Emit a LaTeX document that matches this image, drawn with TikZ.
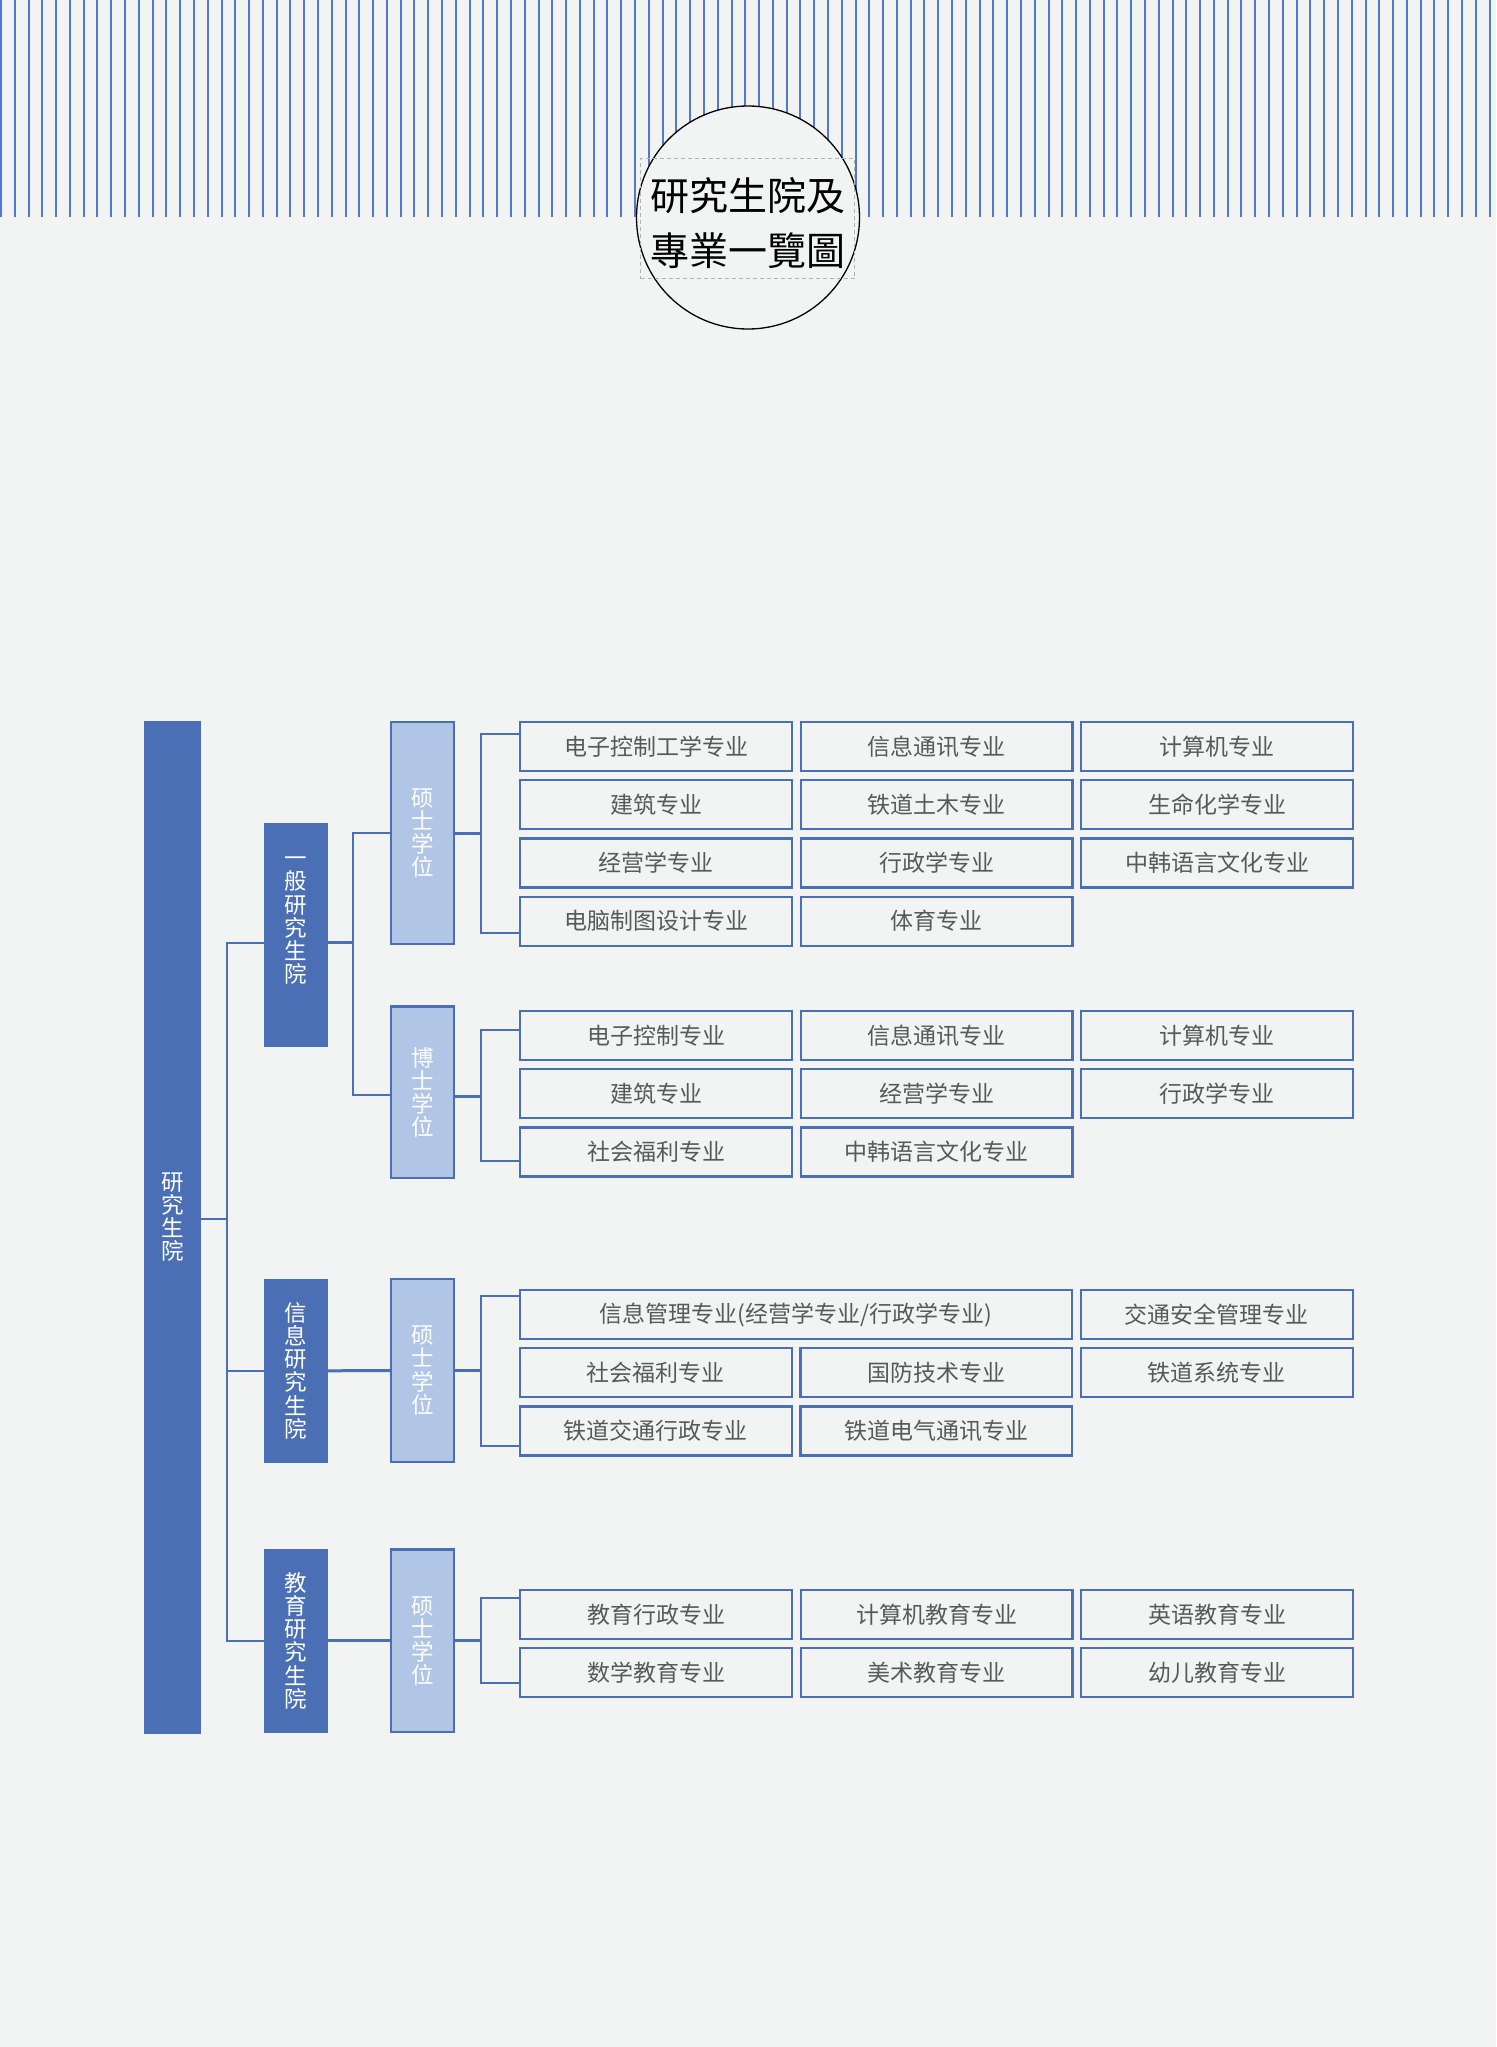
\documentclass[tikz,border=0pt]{standalone}
\usepackage{fontspec}
\setmainfont{Noto Sans CJK SC}
\newfontfamily\titlefont{Noto Sans CJK TC}
\usepackage{xcolor}
\usetikzlibrary{positioning}

\definecolor{pagebg}{RGB}{242,243,243}
\definecolor{stripeblue}{RGB}{82,120,212}
\definecolor{deepblue}{RGB}{74,111,181}
\definecolor{paleblue}{RGB}{177,198,230}
\definecolor{majorgray}{RGB}{89,89,89}

\begin{document}
\begin{tikzpicture}[x=1pt, y=-1pt,
  every node/.style={inner sep=0pt},
  stripe/.style={stripeblue, line width=2pt},
  vlbl/.style={text=white, align=center, font=\fontsize{22.5}{23.2}\selectfont},
  titlelbl/.style={text=black, align=center, font=\titlefont\fontsize{39}{55}\selectfont},
  rootbox/.style={fill=deepblue, minimum width=57pt, minimum height=1013pt},
  schoolbox/.style={fill=deepblue, minimum width=64pt, vlbl},
  degreebox/.style={draw=deepblue, line width=2.4pt, fill=paleblue,
                    minimum width=62.6pt, vlbl},
  majorbox/.style={draw=deepblue, line width=2.2pt, minimum width=271.8pt,
                   minimum height=49pt, text=majorgray,
                   font=\fontsize{23}{24}\selectfont},
  link/.style={deepblue, line width=2pt},
  stub/.style={deepblue, line width=3pt}
]
\fill[pagebg] (0,0) rectangle (1496,2047);
\useasboundingbox (0,0) rectangle (1496,2047);

\foreach \i in {0,...,108}
  \draw[stripe] ({1+13.783*\i},0) -- ({1+13.783*\i},217);

\node[circle, draw=black, line width=1.3pt, fill=pagebg, minimum size=223pt] (ring) at (748,217.5) {};
\node[draw=gray!60, dashed, dash pattern=on 4pt off 3pt, line width=1pt,
      minimum width=214pt, minimum height=120pt,
      label={[titlelbl, yshift=-5pt]center:{研究生院及\\專業一覽圖}}] (title) at (747.5,218.5) {};

\node[rootbox, label={[vlbl, yshift=10pt]center:{研\\究\\生\\院}}] (root) at (172.5,1227) {};

\node[schoolbox, minimum height=223.7pt, label={[vlbl, yshift=14pt]center:{一\\般\\研\\究\\生\\院}}] (gen) at (296,934.8) {};
\node[schoolbox, minimum height=183.7pt] (inf) at (296,1370.8) {信\\息\\研\\究\\生\\院};
\node[schoolbox, minimum height=183.7pt] (edu) at (296,1640.8) {教\\育\\研\\究\\生\\院};

\node[degreebox, minimum height=221.6pt] (gms)  at (422.5,833)    {硕\\士\\学\\位};
\node[degreebox, minimum height=171.6pt] (gphd) at (422.5,1092.4) {博\\士\\学\\位};
\node[degreebox, minimum height=182.6pt] (ims)  at (422.5,1370.5) {硕\\士\\学\\位};
\node[degreebox, minimum height=182.6pt] (ems)  at (422.5,1640.8) {硕\\士\\学\\位};

\node[majorbox] (g11) at (656,746.5) {电子控制工学专业};
\node[majorbox, right=6.5pt of g11] (g12) {信息通讯专业};
\node[majorbox, right=6.5pt of g12] (g13) {计算机专业};
\node[majorbox, below=7pt of g11] (g21) {建筑专业};
\node[majorbox, right=6.5pt of g21] (g22) {铁道土木专业};
\node[majorbox, right=6.5pt of g22] (g23) {生命化学专业};
\node[majorbox, below=7pt of g21] (g31) {经营学专业};
\node[majorbox, right=6.5pt of g31] (g32) {行政学专业};
\node[majorbox, right=6.5pt of g32] (g33) {中韩语言文化专业};
\node[majorbox, below=7pt of g31] (g41) {电脑制图设计专业};
\node[majorbox, right=6.5pt of g41] (g42) {体育专业};

\node[majorbox] (p11) at (656,1035.5) {电子控制专业};
\node[majorbox, right=6.5pt of p11] (p12) {信息通讯专业};
\node[majorbox, right=6.5pt of p12] (p13) {计算机专业};
\node[majorbox, below=7pt of p11] (p21) {建筑专业};
\node[majorbox, right=6.5pt of p21] (p22) {经营学专业};
\node[majorbox, right=6.5pt of p22] (p23) {行政学专业};
\node[majorbox, below=7pt of p21] (p31) {社会福利专业};
\node[majorbox, right=6.5pt of p31] (p32) {中韩语言文化专业};

\node[majorbox, minimum width=552.3pt] (i11) at (796.2,1314.5) {信息管理专业(经营学专业/行政学专业)};
\node[majorbox, right=6.5pt of i11] (i12) {交通安全管理专业};
\node[majorbox, below=7pt of i11.south west, anchor=north west] (i21) {社会福利专业};
\node[majorbox, right=6.5pt of i21] (i22) {国防技术专业};
\node[majorbox, right=6.5pt of i22] (i23) {铁道系统专业};
\node[majorbox, below=7pt of i21] (i31) {铁道交通行政专业};
\node[majorbox, right=6.5pt of i31] (i32) {铁道电气通讯专业};

\node[majorbox] (e11) at (656,1614.5) {教育行政专业};
\node[majorbox, right=6.5pt of e11] (e12) {计算机教育专业};
\node[majorbox, right=6.5pt of e12] (e13) {英语教育专业};
\node[majorbox, below=7pt of e11] (e21) {数学教育专业};
\node[majorbox, right=6.5pt of e21] (e22) {美术教育专业};
\node[majorbox, right=6.5pt of e22] (e23) {幼儿教育专业};

\draw[link] ([yshift=8pt]root.east) -- ++(26,0) coordinate (trunk);
\draw[link] ([yshift=-8pt]gen.west) -| (trunk) |- (edu.west);
\draw[link] (trunk |- inf.west) -- (inf.west);

\draw[stub] ([yshift=-8pt]gen.east) -- ++(25,0) coordinate (genfork);
\draw[link] (gms.west) -| (genfork) |- ([yshift=-3pt]gphd.west);
\draw[stub] (inf.east) -- (ims.west);
\draw[stub] (edu.east) -- (ems.west);

\draw[stub] (gms.east) -- ++(26,0) coordinate (gmsfork);
\draw[link] ([yshift=12.5pt]g11.west) -| (gmsfork) |- ([yshift=-11.5pt]g41.west);
\draw[stub] ([yshift=-4pt]gphd.east) -- ++(26,0) coordinate (phdfork);
\draw[link] ([yshift=5.5pt]p11.west) -| (phdfork) |- ([yshift=-9.5pt]p31.west);
\draw[stub] (ims.east) -- ++(26,0) coordinate (imsfork);
\draw[link] ([yshift=18.5pt]i11.west) -| (imsfork) |- ([yshift=-15.5pt]i31.west);
\draw[stub] (ems.east) -- ++(26,0) coordinate (emsfork);
\draw[link] ([yshift=16.5pt]e11.west) -| (emsfork) |- ([yshift=-10.5pt]e21.west);
\end{tikzpicture}
\end{document}
